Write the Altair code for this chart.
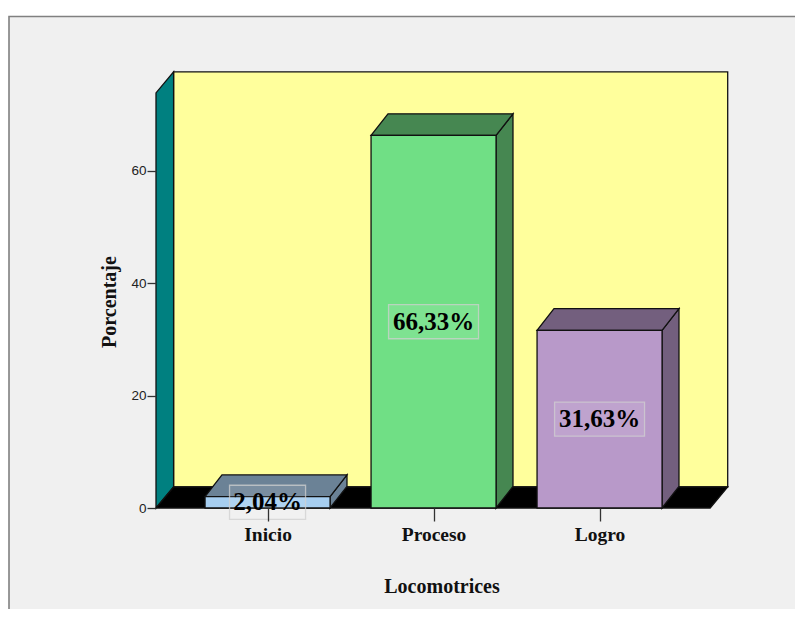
import altair as alt
import pandas as pd

categories = ["Inicio", "Proceso", "Logro"]
values = [2.04, 66.33, 31.63]
value_labels = ["2,04%", "66,33%", "31,63%"]
front_colors = ["#A6CEF0", "#70DF85", "#B899C9"]
side_colors = ["#6B8296", "#468751", "#735F7E"]
y_ticks = [0, 20, 40, 60]

# chart geometry, in data units
BAR_W = 0.753
X_LEFT = -0.672
X_RIGHT = 2.666
DX = 0.106
DY = 3.74
BAR_DX = 0.102
BAR_DY = 3.85
Y_TOP = 73.9
PX_X = 166.0
PX_Y = 5.617
PLOT_W = 571
PLOT_H = 436

SERIF = "Liberation Serif"
SANS = "Liberation Sans"

xs = alt.Scale(domain=[X_LEFT, X_LEFT + PLOT_W / PX_X], nice=False, zero=False)
ys = alt.Scale(domain=[0, PLOT_H / PX_Y], nice=False, zero=False)

x_axis = alt.Axis(
    values=[0, 1, 2],
    labelExpr="['" + "','".join(categories) + "'][datum.value]",
    title="Locomotrices",
    titleFont=SERIF,
    titleFontSize=20,
    titleFontWeight="bold",
    titleColor="#111111",
    titleY=78,
    titleBaseline="middle",
    labelFont=SERIF,
    labelFontSize=19.5,
    labelFontWeight="bold",
    labelColor="#111111",
    labelPadding=4,
    labelFlush=False,
    labelOverlap=False,
    tickSize=13,
    tickColor="#333333",
    tickWidth=1.3,
    domain=False,
    grid=False,
    zindex=1,
)
y_axis = alt.Axis(
    values=y_ticks,
    title="Porcentaje",
    titleFont=SERIF,
    titleFontSize=20,
    titleFontWeight="bold",
    titleColor="#111111",
    titleX=-47,
    titleY=229.5,
    titleAlign="center",
    titleBaseline="middle",
    labelFont=SANS,
    labelFontSize=13.5,
    labelColor="#222222",
    labelPadding=1,
    tickSize=9,
    tickColor="#333333",
    tickWidth=1.3,
    domain=False,
    grid=False,
    zindex=1,
)

X = alt.X("x:Q", scale=xs, axis=x_axis)
Y = alt.Y("y:Q", scale=ys, axis=y_axis)
X2 = alt.X2("x2:Q")
Y2 = alt.Y2("y2:Q")


def quad(x0, x1, y0, y1, fill):
    return alt.Chart(pd.DataFrame([{"x": x0, "x2": x1, "y": y0, "y2": y1}])).mark_rect(
        fill=fill, stroke="#111111", strokeWidth=1.3
    ).encode(x=X, x2=X2, y=Y, y2=Y2)


def skew(rows, fill):
    return alt.Chart(pd.DataFrame(rows)).mark_area(
        fill=fill, stroke="#111111", strokeWidth=1.3, opacity=1
    ).encode(x=X, y=Y, y2=Y2)


def side(x, y0, y1, fill, dx, dy):
    return skew(
        [
            {"x": x, "y": y0, "y2": y1},
            {"x": x + dx, "y": y0 + dy, "y2": y1 + dy},
        ],
        fill,
    )


def top(x0, x1, y, fill, dx, dy):
    return skew(
        [
            {"x": x0, "y": y, "y2": y},
            {"x": x0 + dx, "y": y, "y2": y + dy},
            {"x": x1, "y": y, "y2": y + dy},
            {"x": x1 + dx, "y": y + dy, "y2": y + dy},
        ],
        fill,
    )


layers = [
    alt.Chart(pd.DataFrame({"a": [0]})).mark_rect(
        fill="#F0F0F0", stroke="#808080", strokeWidth=1.6
    ).encode(x=alt.value(-147), x2=alt.value(800), y=alt.value(-55.5), y2=alt.value(700)),
    quad(X_LEFT + DX, X_RIGHT + DX, DY, Y_TOP + DY, "#FFFF9C"),
    side(X_LEFT, 0, Y_TOP, "#008080", DX, DY),
    top(X_LEFT, X_RIGHT, 0, "#000000", DX, DY),
]

for i, v in enumerate(values):
    x0 = i - BAR_W / 2
    x1 = i + BAR_W / 2
    layers.append(side(x1, 0, v, side_colors[i], BAR_DX, BAR_DY))
    layers.append(top(x0, x1, v, side_colors[i], BAR_DX, BAR_DY))
    layers.append(quad(x0, x1, 0, v, front_colors[i]))

box_half = [0.229, 0.271, 0.271]
boxes = alt.Chart(
    pd.DataFrame(
        {
            "x": [i - box_half[i] for i in range(3)],
            "x2": [i + box_half[i] for i in range(3)],
            "y": [v / 2 - 3.03 for v in values],
            "y2": [v / 2 + 3.03 for v in values],
        }
    )
).mark_rect(
    fill="#FFFFFF", fillOpacity=0.1, stroke="#D0D0D0", strokeOpacity=0.75, strokeWidth=1.3
).encode(x=X, x2=X2, y=Y, y2=Y2)
layers.append(boxes)

texts = alt.Chart(
    pd.DataFrame({"x": [0, 1, 2], "y": [v / 2 for v in values], "t": value_labels})
).mark_text(
    font=SERIF, fontSize=25, fontWeight="bold", color="#000000", baseline="middle", align="center"
).encode(x=X, y=Y, text="t:N")
layers.append(texts)

chart = alt.layer(*layers).properties(
    width=PLOT_W,
    height=PLOT_H,
    background="#FFFFFF",
    padding={"left": 148, "top": 64, "right": 68, "bottom": 101},
    autosize=alt.AutoSizeParams(type="none"),
).configure_view(stroke=None)

chart.save("out.html", embed_options={"renderer": "svg", "actions": False})
